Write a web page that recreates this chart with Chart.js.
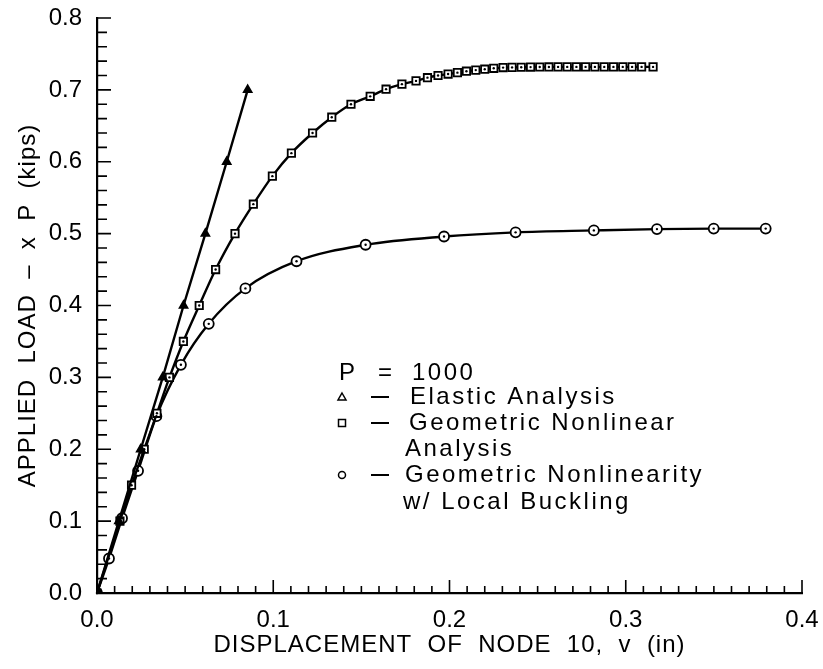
<!DOCTYPE html>
<html>
<head>
<meta charset="utf-8">
<script src="https://cdn.jsdelivr.net/npm/chart.js@4.4.0/dist/chart.umd.min.js"></script>
<style>
  html, body { margin: 0; padding: 0; background: #fff; }
  #wrap { width: 823px; height: 669px; }
</style>
</head>
<body>
<div id="wrap"><canvas id="loadChart" width="823" height="669"></canvas></div>
<script>
// displacement of node 10 (in) vs applied load (x P, kips)
const elasticDisp = [0, 0.0124, 0.0248, 0.0373, 0.0491, 0.0615, 0.0736, 0.0855];
const elasticLoad = [0, 0.1, 0.2, 0.3, 0.4, 0.5, 0.6, 0.7];

const nonlinDisp = [0, 0.013, 0.0196, 0.0268, 0.034, 0.0411, 0.049, 0.058, 0.0673, 0.0783,
  0.0887, 0.0995, 0.1103, 0.1223, 0.1332, 0.1441, 0.155, 0.164, 0.173, 0.181,
  0.1875, 0.1935, 0.1992, 0.2045, 0.2096, 0.2149, 0.22, 0.2251, 0.2304, 0.2355,
  0.2407, 0.246, 0.2512, 0.2564, 0.2616, 0.2668, 0.272, 0.2772, 0.2825, 0.2878,
  0.293, 0.2983, 0.3036, 0.309, 0.3155];
const nonlinLoad = [0, 0.1, 0.15, 0.2, 0.25, 0.3, 0.35, 0.4, 0.45, 0.5,
  0.541, 0.58, 0.612, 0.64, 0.662, 0.68, 0.691, 0.701, 0.708, 0.7125,
  0.717, 0.72, 0.722, 0.724, 0.726, 0.7275, 0.7288, 0.73, 0.731, 0.7313,
  0.7315, 0.7317, 0.7318, 0.7319, 0.732, 0.732, 0.732, 0.732, 0.732, 0.732,
  0.732, 0.732, 0.732, 0.732, 0.732];

const buckDisp = [0, 0.0068, 0.0142, 0.0233, 0.0337, 0.0476, 0.0634, 0.0842, 0.1132, 0.1524,
  0.1969, 0.2375, 0.2819, 0.3177, 0.3499, 0.3794];
const buckLoad = [0, 0.048, 0.104, 0.17, 0.246, 0.3175, 0.3745, 0.4238, 0.4616, 0.4845,
  0.496, 0.5018, 0.5045, 0.5063, 0.507, 0.507];

const xTicks = [0, 0.1, 0.2, 0.3, 0.4];
const yTicks = [0, 0.1, 0.2, 0.3, 0.4, 0.5, 0.6, 0.7, 0.8];

const xTitle = 'DISPLACEMENT  OF  NODE  10,  v  (in)';
const yTitle = 'APPLIED  LOAD  \u2013  x  P  (kips)';
const legendHead = ['P', '=', '1000'];
const legendLines = ['Elastic Analysis', 'Geometric Nonlinear', 'Analysis', 'Geometric Nonlinearity', 'w/ Local Buckling'];

const FONT = "'Liberation Sans', Arial, sans-serif";

function pts(xs, ys) {
  return xs.map((v, i) => ({ x: v, y: ys[i] }));
}

// titles get a little extra letter spacing, tick labels none
const spacing = {
  id: 'spacing',
  beforeDraw(chart) { chart.ctx.letterSpacing = '1px'; },
  beforeDatasetsDraw(chart) { chart.ctx.letterSpacing = '0px'; }
};

// ticks pointing into the plot, like the original plotter output
const inwardTicks = {
  id: 'inwardTicks',
  afterDraw(chart) {
    const { ctx, chartArea } = chart;
    const x = chart.scales.x, y = chart.scales.y;
    ctx.save();
    ctx.strokeStyle = '#000';
    ctx.lineWidth = 1.6;
    ctx.beginPath();
    for (let i = 0; i <= 40; i++) {
      const px = x.getPixelForValue(i * 0.01);
      const len = i % 10 === 0 ? 13 : 7;
      ctx.moveTo(px, chartArea.bottom);
      ctx.lineTo(px, chartArea.bottom - len);
    }
    for (let j = 0; j <= 40; j++) {
      const py = y.getPixelForValue(j * 0.02);
      const len = j % 5 === 0 ? 14 : 10;
      ctx.moveTo(chartArea.left, py);
      ctx.lineTo(chartArea.left + len, py);
    }
    ctx.stroke();
    ctx.restore();
  }
};

// little dot in the middle of the open squares and circles
const centerDots = {
  id: 'centerDots',
  afterDatasetsDraw(chart) {
    const ctx = chart.ctx;
    ctx.save();
    ctx.fillStyle = '#000';
    chart.data.datasets.forEach((ds, i) => {
      if (!ds.centerDot) return;
      chart.getDatasetMeta(i).data.forEach(el => {
        ctx.beginPath();
        ctx.arc(el.x, el.y, 1.2, 0, Math.PI * 2);
        ctx.fill();
      });
    });
    ctx.restore();
  }
};

const textLegend = {
  id: 'textLegend',
  afterDraw(chart) {
    const ctx = chart.ctx;
    ctx.save();
    ctx.fillStyle = '#000';
    ctx.strokeStyle = '#000';
    ctx.font = '24px ' + FONT;
    ctx.letterSpacing = '2.5px';
    ctx.textBaseline = 'middle';
    ctx.textAlign = 'left';

    ctx.fillText(legendHead[0], 339, 373);
    ctx.fillText(legendHead[1], 378, 373);
    ctx.fillText(legendHead[2], 412, 373);

    const rows = [397, 423, 449, 475, 502];
    const textX = [410, 409, 405, 405, 403];
    legendLines.forEach((t, i) => ctx.fillText(t, textX[i], rows[i]));

    // dashes
    ctx.lineWidth = 2;
    [397, 423, 475].forEach(r => {
      ctx.beginPath();
      ctx.moveTo(371, r);
      ctx.lineTo(389, r);
      ctx.stroke();
    });

    // markers
    ctx.lineWidth = 1.5;
    ctx.beginPath();
    ctx.moveTo(342, 393);
    ctx.lineTo(346, 400);
    ctx.lineTo(338, 400);
    ctx.closePath();
    ctx.stroke();
    ctx.strokeRect(338.5, 419.5, 7, 7);
    ctx.beginPath();
    ctx.arc(342, 475, 3.5, 0, Math.PI * 2);
    ctx.stroke();
    ctx.restore();
  }
};

const common = {
  borderColor: '#000',
  borderWidth: 2.4,
  pointBorderColor: '#000',
  pointBorderWidth: 1.8,
  fill: false,
  showLine: true
};

new Chart(document.getElementById('loadChart'), {
  type: 'scatter',
  data: {
    datasets: [
      Object.assign({}, common, {
        label: 'Elastic Analysis',
        data: pts(elasticDisp, elasticLoad),
        tension: 0,
        pointStyle: 'triangle',
        pointRadius: 4.5,
        pointBackgroundColor: '#000'
      }),
      Object.assign({}, common, {
        label: 'Geometric Nonlinear Analysis',
        data: pts(nonlinDisp, nonlinLoad),
        cubicInterpolationMode: 'monotone',
        pointStyle: 'rect',
        pointRadius: 5.2,
        pointBackgroundColor: c => c.dataIndex === 0 ? '#000' : '#fff',
        centerDot: true
      }),
      Object.assign({}, common, {
        label: 'Geometric Nonlinearity w/ Local Buckling',
        data: pts(buckDisp, buckLoad),
        cubicInterpolationMode: 'monotone',
        pointStyle: 'circle',
        pointRadius: 5,
        pointBackgroundColor: c => c.dataIndex === 0 ? '#000' : '#fff',
        centerDot: true
      })
    ]
  },
  options: {
    responsive: false,
    animation: false,
    layout: { padding: { top: 18, right: 21, left: 0, bottom: 0 } },
    plugins: {
      legend: { display: false },
      tooltip: { enabled: false }
    },
    scales: {
      x: {
        type: 'linear',
        min: 0,
        max: 0.4,
        afterFit: s => { s.height = 76; s.paddingLeft = 0; s.paddingRight = 0; },
        afterBuildTicks: s => { s.ticks = xTicks.map(v => ({ value: v })); },
        grid: { display: false, drawTicks: false },
        border: { display: true, color: '#000', width: 2.2 },
        ticks: {
          z: 1,
          padding: 13,
          color: '#000',
          font: { family: FONT, size: 24 },
          callback: v => v.toFixed(1)
        },
        title: {
          display: true,
          text: xTitle,
          color: '#000',
          font: { family: FONT, size: 24, lineHeight: 1.2 },
          padding: { top: 0, bottom: 9 }
        }
      },
      y: {
        type: 'linear',
        min: 0,
        max: 0.8,
        afterFit: s => { s.width = 97; s.paddingTop = 0; s.paddingBottom = 0; },
        afterBuildTicks: s => { s.ticks = yTicks.map(v => ({ value: v })); },
        grid: { display: false, drawTicks: false },
        border: { display: true, color: '#000', width: 2.2 },
        ticks: {
          z: 1,
          padding: 15,
          color: '#000',
          font: { family: FONT, size: 24 },
          callback: v => v.toFixed(1)
        },
        title: {
          display: true,
          text: yTitle,
          color: '#000',
          font: { family: FONT, size: 24, lineHeight: 1.2 },
          padding: { top: 14, bottom: 0 }
        }
      }
    }
  },
  plugins: [spacing, inwardTicks, centerDots, textLegend]
});
</script>
</body>
</html>
